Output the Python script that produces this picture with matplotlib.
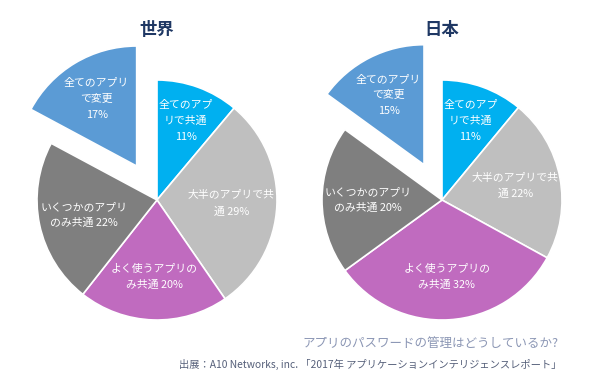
import matplotlib
matplotlib.use("Agg")
import matplotlib.pyplot as plt
import numpy as np

plt.rcParams["font.family"] = ["Noto Sans CJK JP", "DejaVu Sans"]

W, H = 600, 386

labels = ["全てのアプ\nリで共通\n{}%", "大半のアプリで共\n通 {}%", "よく使うアプリの\nみ共通 {}%",
          "いくつかのアプリ\nのみ共通 {}%", "全てのアプリ\nで変更\n{}%"]
world = [11, 29, 20, 22, 17]
japan = [11, 22, 32, 20, 15]
colors = ["#00B0F0", "#BFBFBF", "#C06BBF", "#7F7F7F", "#5B9BD5"]
explode = [0, 0, 0, 0, 0.33]
label_dist = [0.70, 0.62, 0.64, 0.62, 0.65]

fig = plt.figure(figsize=(W / 100, H / 100), dpi=100)

R = 120  # pie radius in pixels


def draw_pie(cx, cy, values, title):
    # axes placed so that the unit circle maps to R pixels around (cx, cy)
    x0, x1, y0, y1 = -1.05, 1.05, -1.05, 1.35
    left = (cx + x0 * R) / W
    bottom = (H - cy + y0 * R) / H
    ax = fig.add_axes([left, bottom, (x1 - x0) * R / W, (y1 - y0) * R / H])
    wedges, _ = ax.pie(values, colors=colors, explode=explode, startangle=90,
                       counterclock=False, radius=1,
                       wedgeprops=dict(edgecolor="white", linewidth=1.2))
    for w, lab, v, d in zip(wedges, labels, values, label_dist):
        mid = np.deg2rad((w.theta1 + w.theta2) / 2)
        x = w.center[0] + d * np.cos(mid)
        y = w.center[1] + d * np.sin(mid)
        ax.text(x, y, lab.format(v), ha="center", va="center", color="white",
                fontsize=7.8, linespacing=1.7)
    ax.set_xlim(x0, x1)
    ax.set_ylim(y0, y1)
    ax.set_aspect("equal")
    ax.axis("off")
    fig.text(cx / W, 1 - 30 / H, title, ha="center", va="center",
             fontsize=12.5, fontweight="bold", color="#1F3864")


draw_pie(157, 200, world, "世界")
draw_pie(442, 200, japan, "日本")

fig.text(558 / W, 1 - 344 / H, "アプリのパスワードの管理はどうしているか?",
         ha="right", va="center", fontsize=9.0, color="#8C97B5")
fig.text(561 / W, 1 - 364 / H,
         "出展：A10 Networks, inc. 「2017年 アプリケーションインテリジェンスレポート」",
         ha="right", va="center", fontsize=7.4, color="#56607A")

fig.savefig("out.png", dpi=100)
